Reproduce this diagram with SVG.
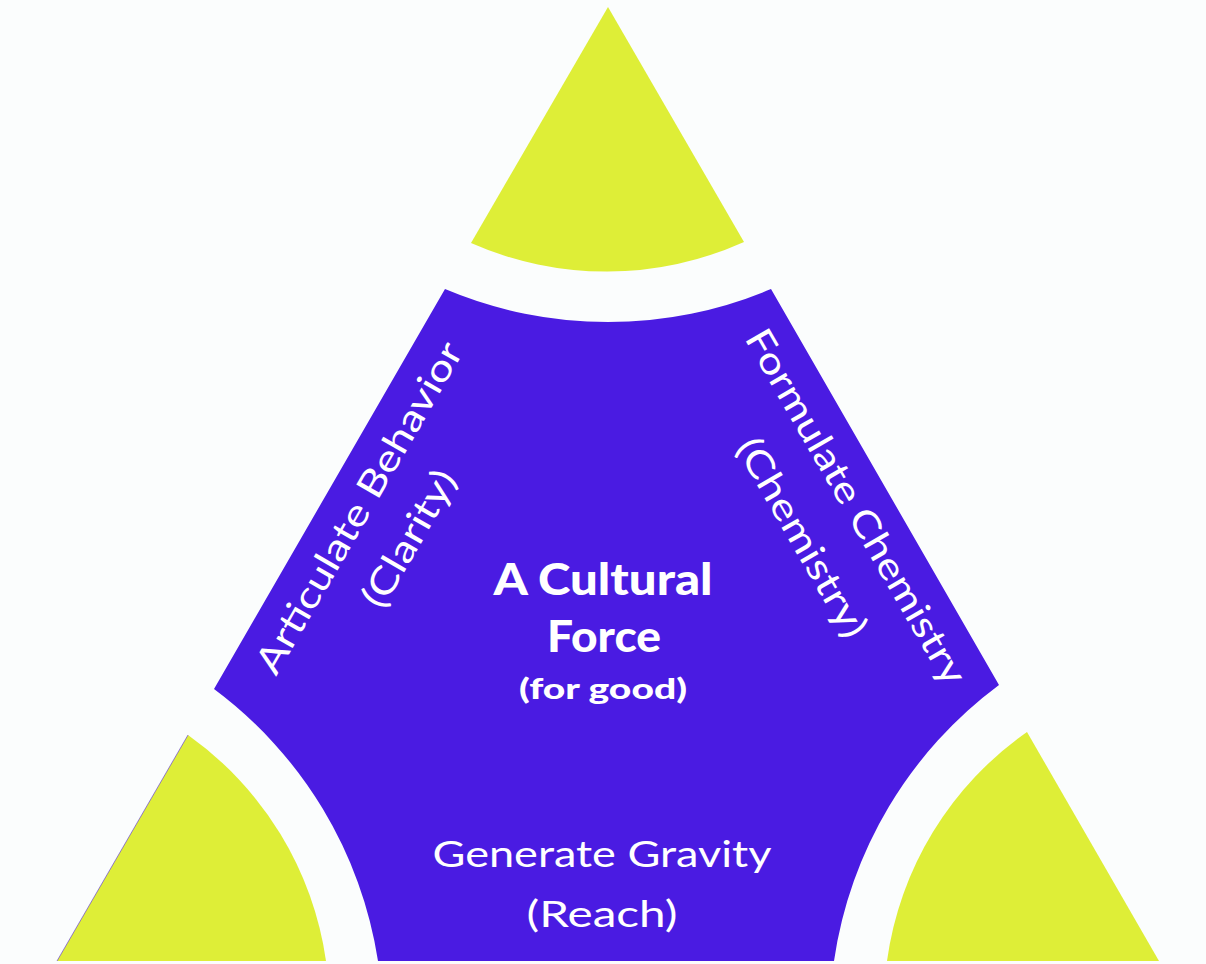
<svg xmlns="http://www.w3.org/2000/svg" width="1206" height="964" viewBox="0 0 1206 964">
  <style>
    .yellow { fill: #DEEE37; }
    .blue { fill: #4A1BE2; }
    .lbl { font-family: "Lato", "Liberation Sans", sans-serif; fill: #FFFFFF; font-size: 37px; font-weight: 400; text-anchor: middle; }
    .title { font-family: "Lato", "Liberation Sans", sans-serif; fill: #FFFFFF; font-weight: 900; text-anchor: middle; }
  </style>
  <rect x="0" y="0" width="1206" height="964" fill="#FBFDFD"/>
  <g id="corner-top">
    <path class="yellow" d="M 608 7 L 744 242 A 335 335 0 0 1 471 243 Z"/>
  </g>
  <g id="corner-bottom-left">
    <path class="yellow" d="M 57 961 L 188 735 A 335 335 0 0 1 326 961 Z"/>
    <line x1="57" y1="961" x2="188" y2="735" stroke="#4A1BE2" stroke-width="0.8" stroke-opacity="0.7"/>
  </g>
  <g id="corner-bottom-right">
    <path class="yellow" d="M 1159 961 L 887 961 A 335 335 0 0 1 1027 732 Z"/>
  </g>
  <g id="center">
    <path class="blue" d="M 445 289 A 419 419 0 0 0 771 289 L 999 685 A 419 419 0 0 0 834 961 L 378 961 A 419 419 0 0 0 214 689 Z"/>
    <text class="title" x="603" y="595" font-size="44" textLength="219" lengthAdjust="spacingAndGlyphs">A Cultural</text>
    <text class="title" x="604" y="652" font-size="43" textLength="114" lengthAdjust="spacingAndGlyphs">Force</text>
    <text class="title" x="603" y="699" font-size="29" textLength="168" lengthAdjust="spacingAndGlyphs">(for good)</text>
  </g>
  <g id="label-left">
    <text class="lbl" transform="translate(370 514) rotate(-60)" textLength="376" lengthAdjust="spacingAndGlyphs">Articulate Behavior</text>
    <text class="lbl" transform="translate(420 545) rotate(-60)" textLength="152" lengthAdjust="spacingAndGlyphs">(Clarity)</text>
  </g>
  <g id="label-right">
    <text class="lbl" transform="translate(845 513) rotate(60)" textLength="404" lengthAdjust="spacingAndGlyphs">Formulate Chemistry</text>
    <text class="lbl" transform="translate(791 544) rotate(60)" textLength="224" lengthAdjust="spacingAndGlyphs">(Chemistry)</text>
  </g>
  <g id="label-bottom">
    <text class="lbl" x="602" y="867" textLength="339" lengthAdjust="spacingAndGlyphs">Generate Gravity</text>
    <text class="lbl" x="602" y="927" textLength="151" lengthAdjust="spacingAndGlyphs">(Reach)</text>
  </g>
  <g id="connectors"/>
</svg>
